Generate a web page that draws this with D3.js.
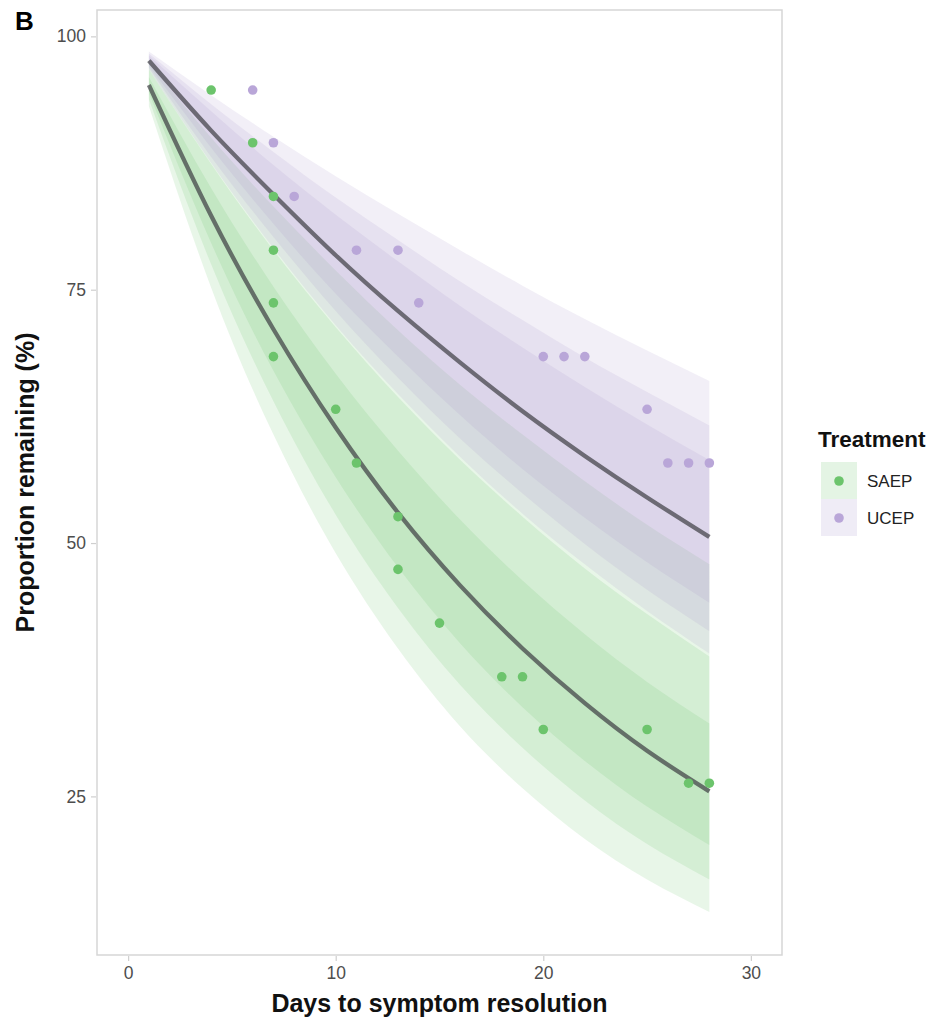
<!DOCTYPE html>
<html>
<head>
<meta charset="utf-8">
<script src="https://cdn.jsdelivr.net/npm/d3@7"></script>
<style>
  body { margin: 0; background: #fff; }
  text { font-family: "Liberation Sans", Arial, sans-serif; }
</style>
</head>
<body>
<div id="chart"></div>
<script>
// observed points (day, % remaining)
const saepDays = [4, 6, 7, 7, 7, 7, 10, 11, 13, 13, 15, 18, 19, 20, 25, 27, 28];
const saepPct = [94.7, 89.5, 84.2, 78.9, 73.7, 68.4, 63.2, 57.9, 52.6, 47.4, 42.1, 36.8, 36.8, 31.6, 31.6, 26.3, 26.3];
const ucepDays = [6, 7, 8, 11, 13, 14, 20, 21, 22, 25, 26, 27, 28];
const ucepPct = [94.7, 89.5, 84.2, 78.9, 78.9, 73.7, 68.4, 68.4, 68.4, 63.2, 57.9, 57.9, 57.9];

// fitted curves and interval bands, read at these days
const fitDays = [1, 4, 7, 10, 13, 16, 19, 22, 25, 28];
const saepFit  = [95.2, 82.3, 71.1, 61.4, 53.0, 45.8, 39.6, 34.2, 29.5, 25.5];
const saepHi95 = [97.4, 90.0, 83.2, 76.9, 71.0, 65.6, 60.7, 56.1, 51.8, 47.9];
const saepHi80 = [96.7, 87.4, 78.9, 71.3, 64.4, 58.2, 52.6, 47.5, 43.0, 38.8];
const saepHi50 = [96.0, 85.0, 75.3, 66.7, 59.1, 52.3, 46.3, 41.0, 36.3, 32.2];
const saepLo50 = [94.4, 79.6, 67.0, 56.5, 47.6, 40.1, 33.8, 28.5, 24.0, 20.2];
const saepLo80 = [93.8, 77.5, 64.0, 52.8, 43.6, 36.0, 29.8, 24.6, 20.3, 16.8];
const saepLo95 = [93.1, 75.2, 60.7, 49.0, 39.6, 31.9, 25.8, 20.8, 16.8, 13.6];

const ucepFit  = [97.6, 90.7, 84.4, 78.4, 72.9, 67.8, 63.0, 58.6, 54.5, 50.6];
const ucepHi95 = [98.5, 94.2, 90.1, 86.2, 82.5, 78.9, 75.4, 72.1, 69.0, 66.0];
const ucepHi80 = [98.3, 93.3, 88.6, 84.1, 79.9, 75.8, 72.0, 68.3, 64.9, 61.6];
const ucepHi50 = [98.1, 92.6, 87.3, 82.4, 77.8, 73.4, 69.3, 65.4, 61.7, 58.2];
const ucepLo50 = [97.1, 89.0, 81.5, 74.6, 68.4, 62.6, 57.3, 52.5, 48.1, 44.1];
const ucepLo80 = [96.9, 88.1, 80.2, 72.9, 66.3, 60.3, 54.9, 49.9, 45.4, 41.3];
const ucepLo95 = [96.7, 87.5, 79.1, 71.5, 64.7, 58.5, 52.9, 47.9, 43.3, 39.1];

const xTicks = [0, 10, 20, 30];
const yTicks = [25, 50, 75, 100];
const groups = ["SAEP", "UCEP"];
const groupColors = ["#5cbf5c", "#a08cc8"];
const pointColors = ["#6cc46c", "#b9a6d8"];

const W = 938, H = 1023;
const panel = { left: 97, right: 782, top: 10, bottom: 955 };

const svg = d3.select("#chart").append("svg")
  .attr("width", W)
  .attr("height", H);

const x = d3.scaleLinear().domain([-1.5, 31.5]).range([panel.left, panel.right]);
const y = d3.scaleLinear().domain([9.35, 102.6]).range([panel.bottom, panel.top]);

// panel border
svg.append("rect")
  .attr("x", panel.left).attr("y", panel.top)
  .attr("width", panel.right - panel.left)
  .attr("height", panel.bottom - panel.top)
  .attr("fill", "none")
  .attr("stroke", "#d6d6d6")
  .attr("stroke-width", 1.5);

const area = d3.area()
  .x(d => x(d.day))
  .y0(d => y(d.lo))
  .y1(d => y(d.hi))
  .curve(d3.curveNatural);

const line = d3.line()
  .x(d => x(d.day))
  .y(d => y(d.v))
  .curve(d3.curveNatural);

function band(lo, hi) {
  return fitDays.map((d, i) => ({ day: d, lo: lo[i], hi: hi[i] }));
}

const bandSets = [
  [band(saepLo95, saepHi95), band(saepLo80, saepHi80), band(saepLo50, saepHi50)],
  [band(ucepLo95, ucepHi95), band(ucepLo80, ucepHi80), band(ucepLo50, ucepHi50)]
];

const plot = svg.append("g");

bandSets.forEach((bands, g) => {
  bands.forEach(b => {
    plot.append("path")
      .attr("d", area(b))
      .attr("fill", groupColors[g])
      .attr("fill-opacity", 0.14);
  });
});

[saepFit, ucepFit].forEach(fit => {
  plot.append("path")
    .attr("d", line(fitDays.map((d, i) => ({ day: d, v: fit[i] }))))
    .attr("fill", "none")
    .attr("stroke", "rgba(55,55,60,0.68)")
    .attr("stroke-width", 4.3);
});

const pts = [
  saepDays.map((d, i) => ({ day: d, v: saepPct[i], g: 0 })),
  ucepDays.map((d, i) => ({ day: d, v: ucepPct[i], g: 1 }))
];

pts.forEach(set => {
  plot.selectAll(null)
    .data(set)
    .enter()
    .append("circle")
    .attr("cx", d => x(d.day))
    .attr("cy", d => y(d.v))
    .attr("r", 4.8)
    .attr("fill", d => pointColors[d.g]);
});

// axes
const xAxis = d3.axisBottom(x).tickValues(xTicks).tickSize(5).tickPadding(6);
const yAxis = d3.axisLeft(y).tickValues(yTicks).tickSize(5).tickPadding(5);

const gx = svg.append("g")
  .attr("transform", "translate(0," + (panel.bottom + 1) + ")")
  .call(xAxis);
const gy = svg.append("g")
  .attr("transform", "translate(" + (panel.left - 1) + ",0)")
  .call(yAxis);

[gx, gy].forEach(g => {
  g.select(".domain").remove();
  g.selectAll(".tick line").attr("stroke", "#cfcfcf").attr("stroke-width", 1.2);
  g.selectAll(".tick text")
    .attr("fill", "#4d4d4d")
    .style("font-size", "17.5px")
    .style("font-family", "'Liberation Sans', Arial, sans-serif");
});

// titles
svg.append("text")
  .attr("x", (panel.left + panel.right) / 2)
  .attr("y", 1012)
  .attr("text-anchor", "middle")
  .style("font-size", "25px")
  .style("font-weight", "bold")
  .attr("fill", "#111")
  .text("Days to symptom resolution");

svg.append("text")
  .attr("transform", "translate(34," + (panel.top + panel.bottom) / 2 + ") rotate(-90)")
  .attr("text-anchor", "middle")
  .style("font-size", "25px")
  .style("font-weight", "bold")
  .attr("fill", "#111")
  .text("Proportion remaining (%)");

svg.append("text")
  .attr("x", 15)
  .attr("y", 30)
  .style("font-size", "26px")
  .style("font-weight", "bold")
  .attr("fill", "#000")
  .text("B");

// legend
const legend = svg.append("g").attr("transform", "translate(821,0)");
legend.append("text")
  .attr("x", -3)
  .attr("y", 447)
  .style("font-size", "22.5px")
  .style("font-weight", "bold")
  .attr("fill", "#111")
  .text("Treatment");

groups.forEach((name, i) => {
  const top = 462 + i * 37;
  legend.append("rect")
    .attr("x", 0).attr("y", top)
    .attr("width", 36).attr("height", 37)
    .attr("fill", groupColors[i])
    .attr("fill-opacity", 0.17);
  legend.append("circle")
    .attr("cx", 18).attr("cy", top + 19)
    .attr("r", 4.8)
    .attr("fill", pointColors[i]);
  legend.append("text")
    .attr("x", 46)
    .attr("y", top + 19)
    .attr("dy", "0.36em")
    .style("font-size", "17px")
    .attr("fill", "#222")
    .text(name);
});
</script>
</body>
</html>
